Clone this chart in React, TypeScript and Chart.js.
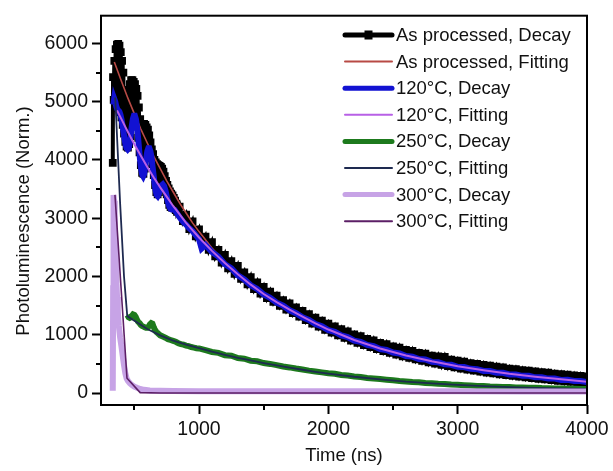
import { useEffect, useRef } from 'react';
import { Chart, registerables } from 'chart.js';

Chart.register(...registerables);

// ---------- data ----------
const seriesLabels = [
  'As processed, Decay',
  'As processed, Fitting',
  '120°C, Decay',
  '120°C, Fitting',
  '250°C, Decay',
  '250°C, Fitting',
  '300°C, Decay',
  '300°C, Fitting',
];

const xTickStops = [500, 1000, 1500, 2000, 2500, 3000, 3500, 4000];
const xTickValues = [1000, 2000, 3000, 4000];
const yTickStops = [0, 500, 1000, 1500, 2000, 2500, 3000, 3500, 4000, 4500, 5000, 5500, 6000];
const yTickValues = [0, 1000, 2000, 3000, 4000, 5000, 6000];

// As processed, Decay (noisy band: alternating upper / lower envelope)
const asProcDecayT = [
  333, 335, 340, 345, 350, 355, 360, 365, 370, 375, 380, 385, 390, 395, 400, 405, 410, 415, 420, 425, 430,
  435, 440, 445, 450, 455, 460, 465, 470, 475, 480, 485, 490, 495, 500, 505, 510, 515, 520, 525, 530,
  535, 540, 545, 550, 555, 560, 565, 570, 575, 580, 585, 590, 595, 600, 605, 610, 615, 620, 625, 630,
  635, 640, 645, 650, 655, 660, 665, 670, 675, 680, 685, 690, 695, 700, 705, 710, 715, 720, 725, 730,
  735, 740, 745, 750, 755, 760, 765, 770, 775, 780, 785, 790, 795, 800, 805, 810, 815, 820, 825, 830,
  850, 875, 900, 925, 950, 975, 1000, 1025, 1050, 1075, 1100, 1125, 1150, 1175, 1200, 1225, 1250, 1275,
  1300, 1325, 1350, 1375, 1400, 1425, 1450, 1475, 1500, 1525, 1550, 1575, 1600, 1625, 1650, 1675, 1700,
  1725, 1750, 1775, 1800, 1825, 1850, 1875, 1900, 1925, 1950, 1975, 2000,
  2025, 2050, 2075, 2100, 2125, 2150, 2175, 2200, 2225, 2250, 2275, 2300, 2325, 2350, 2375, 2400,
  2425, 2450, 2475, 2500, 2525, 2550, 2575, 2600, 2625, 2650, 2675, 2700, 2725, 2750, 2775, 2800,
  2825, 2850, 2875, 2900, 2925, 2950, 2975, 3000, 3025, 3050, 3075, 3100, 3125, 3150, 3175, 3200,
  3225, 3250, 3275, 3300, 3325, 3350, 3375, 3400, 3425, 3450, 3475, 3500, 3525, 3550, 3575, 3600,
  3625, 3650, 3675, 3700, 3725, 3750, 3775, 3800, 3825, 3850, 3875, 3900, 3925, 3950, 3975, 4000,
];
const asProcDecayV = [
  3950, 5420, 5030, 5700, 5030, 5900, 4950, 5980, 4900, 5990, 4870, 5960, 4820, 5850, 4730, 5700, 4600, 5500, 4450, 5200, 4310,
  5050, 4230, 5050, 4210, 5150, 4270, 5300, 4410, 5370, 4610, 5370, 4750, 5340, 4790, 5300, 4750, 5220, 4610, 5100, 4380,
  4900, 4130, 4700, 3910, 4620, 3780, 4620, 3760, 4620, 3850, 4600, 4030, 4560, 4180, 4520, 4230, 4420, 4210, 4300, 4110,
  4180, 3930, 4100, 3740, 4000, 3570, 3960, 3450, 3930, 3410, 3910, 3450, 3900, 3530, 3880, 3590, 3850, 3610, 3800, 3580,
  3720, 3510, 3640, 3410, 3570, 3310, 3510, 3230, 3460, 3190, 3420, 3180, 3390, 3180, 3350, 3170, 3300, 3140, 3250, 3110,
  3200, 2950, 3060, 2815, 2945, 2690, 2810, 2570, 2685, 2455, 2590, 2345, 2455, 2240, 2370, 2140, 2265, 2045,
  2180, 1960, 2070, 1865, 1990, 1785, 1900, 1705, 1820, 1630, 1740, 1565, 1670, 1497, 1595, 1432, 1540,
  1370, 1470, 1310, 1410, 1250, 1352, 1193, 1295, 1138, 1242, 1086, 1190,
  1036, 1143, 990, 1095, 946, 1060, 901, 1005, 861, 975, 823, 930, 787, 905, 752, 860,
  719, 840, 689, 800, 659, 780, 629, 740, 602, 725, 577, 690, 552, 675, 527, 640,
  504, 630, 482, 620, 461, 575, 440, 555, 421, 540, 403, 515, 386, 500, 368, 485,
  352, 470, 337, 455, 322, 440, 307, 420, 293, 410, 281, 395, 268, 385, 256, 370,
  244, 360, 233, 350, 221, 335, 210, 325, 200, 315, 190, 305, 180, 295, 170, 285,
];

// As processed, Fitting
const asProcFitT = [345, 400, 450, 500, 550, 600, 650, 700, 750, 800, 850, 900, 950, 1000, 1100, 1200, 1300, 1400, 1500, 1600, 1700, 1800, 1900, 2000, 2200, 2400, 2600, 2800, 3000, 3200, 3400, 3600, 3800, 4000];
const asProcFitV = [5680, 5350, 5060, 4790, 4530, 4290, 4060, 3850, 3640, 3450, 3260, 3090, 2920, 2770, 2490, 2250, 2045, 1860, 1700, 1555, 1425, 1305, 1190, 1085, 905, 760, 640, 540, 455, 385, 325, 275, 230, 190];

// 120°C, Decay
const c120DecayT = [
  338, 344, 352, 360, 368, 376, 384, 392, 400, 408, 416, 424, 432, 440, 448, 456, 464, 472, 480, 488,
  496, 504, 512, 520, 528, 536, 544, 552, 560, 568, 576, 584, 592, 600, 608, 616, 624, 632, 640, 648,
  656, 664, 672, 680, 690, 700, 710, 720, 730, 740, 750, 760, 770, 780, 790, 800, 812, 825, 840, 855,
  870, 885, 900, 915, 930, 950, 1000, 1020, 1050, 1100, 1150, 1200, 1250, 1300, 1350, 1400, 1450, 1500,
  1550, 1600, 1650, 1700, 1750, 1800, 1850, 1900, 1950, 2000, 2050, 2100, 2150, 2200, 2250, 2300, 2350,
  2400, 2450, 2500, 2550, 2600, 2650, 2700, 2750, 2800, 2850, 2900, 2950, 3000, 3050, 3100, 3150, 3200,
  3250, 3300, 3350, 3400, 3450, 3500, 3550, 3600, 3650, 3700, 3750, 3800, 3850, 3900, 3950, 4000,
];
const c120DecayV = [
  4950, 5050, 5000, 4920, 4870, 4850, 4830, 4780, 4700, 4600, 4480, 4360, 4260, 4200, 4180, 4200, 4280, 4420, 4580, 4700,
  4760, 4760, 4700, 4580, 4400, 4200, 4000, 3850, 3750, 3720, 3760, 3880, 4030, 4150, 4200, 4200, 4150, 4050, 3900, 3750,
  3600, 3480, 3400, 3380, 3420, 3500, 3560, 3580, 3550, 3480, 3380, 3280, 3200, 3160, 3150, 3150, 3140, 3100, 3050, 3000,
  2960, 2920, 2890, 2850, 2820, 2780, 2640, 2480, 2540, 2420, 2340, 2210, 2140, 2020, 1950, 1850, 1785, 1690,
  1635, 1550, 1500, 1420, 1370, 1300, 1255, 1185, 1145, 1080, 1050, 990, 960, 900, 880, 825, 805,
  755, 740, 695, 680, 635, 625, 585, 575, 535, 528, 492, 485, 450, 446, 415, 410, 380,
  378, 350, 348, 320, 320, 295, 295, 270, 271, 248, 248, 226, 228, 206, 208, 188,
];

// 120°C, Fitting
const c120FitT = [366, 400, 450, 500, 550, 600, 650, 700, 750, 800, 900, 1000, 1100, 1200, 1300, 1400, 1500, 1600, 1700, 1800, 1900, 2000, 2200, 2400, 2600, 2800, 3000, 3200, 3400, 3600, 3800, 4000];
const c120FitV = [4850, 4700, 4480, 4270, 4070, 3880, 3700, 3530, 3370, 3210, 2920, 2670, 2440, 2230, 2040, 1860, 1700, 1560, 1430, 1310, 1195, 1090, 910, 765, 645, 545, 460, 390, 330, 280, 235, 195];

// 250°C, Decay
const c250DecayT = [
  446, 456, 464, 472, 480, 490, 500, 510,
  520, 530, 540, 550, 560, 570, 580, 590, 600, 610, 620, 630, 640, 650, 660, 670, 680, 690, 700, 720,
  740, 760, 780, 800, 820, 840, 860, 880, 900, 920, 940, 960, 980, 1000,
  1050, 1100, 1150, 1200, 1250, 1300, 1350, 1400, 1450, 1500, 1550, 1600, 1650, 1700, 1750, 1800, 1850,
  1900, 1950, 2000, 2050, 2100, 2150, 2200, 2250, 2300, 2350, 2400, 2450, 2500, 2550, 2600, 2650, 2700,
  2750, 2800, 2850, 2900, 2950, 3000, 3050, 3100, 3150, 3200, 3250, 3300, 3350, 3400, 3450, 3500, 3550,
  3600, 3650, 3700, 3750, 3800, 3850, 3900, 3950, 4000,
];
const c250DecayV = [
  1340, 1300, 1290, 1300, 1320, 1350, 1340, 1310,
  1260, 1220, 1200, 1170, 1150, 1140, 1130, 1120, 1120, 1140, 1180, 1200, 1190, 1130, 1080, 1050, 1030, 1010, 990, 970,
  950, 925, 910, 895, 880, 855, 840, 830, 815, 805, 790, 780, 770, 765,
  735, 705, 690, 650, 640, 600, 590, 555, 545, 515, 500, 480, 455, 440, 420, 405, 385,
  370, 355, 340, 330, 310, 300, 285, 275, 260, 250, 240, 230, 220, 208, 200, 190, 185,
  172, 170, 160, 155, 145, 142, 135, 130, 122, 120, 112, 110, 104, 102, 96, 95, 90,
  90, 85, 83, 80, 79, 75, 74, 71, 70,
];

// 250°C, Fitting
const c250FitT = [352, 390, 420, 445, 500, 600, 700, 800, 900, 1000, 1100, 1200, 1300, 1400, 1500, 1600, 1700, 1800, 1900, 2000, 2200, 2400, 2600, 2800, 3000, 3200, 3400, 3600, 3800, 4000];
const c250FitV = [5070, 3250, 2000, 1320, 1240, 1100, 990, 900, 830, 770, 710, 655, 605, 560, 515, 475, 435, 400, 365, 335, 280, 235, 195, 165, 140, 118, 100, 88, 78, 70];

// 300°C, Decay
const c300DecayT = [333, 336, 339, 343, 348, 354, 360, 366, 372, 380, 390, 400, 410, 420, 430, 440, 450, 465, 480, 500, 520, 545, 575, 620, 700, 800, 1000, 1500, 2000, 2500, 3000, 3500, 4000];
const c300DecayV = [40, 1800, 3400, 3300, 2900, 2400, 2000, 1650, 1400, 1150, 950, 800, 640, 480, 340, 250, 210, 170, 140, 110, 90, 70, 55, 45, 38, 34, 32, 30, 30, 29, 29, 28, 28];

// 300°C, Fitting
const c300FitT = [350, 443, 545, 700, 4000];
const c300FitV = [3400, 255, 8, 1, 0];

// ---------- styles ----------
const seriesColors = ['#000000', '#b84a45', '#1212d2', '#b860e6', '#1d7a1d', '#1e2a50', '#c7a3e6', '#5c1f66'];
const seriesWidths = [4, 1.6, 6, 2, 6, 1.8, 6, 1.6];
const FONT = '"Liberation Sans", Arial, Helvetica, sans-serif';

function pts(t: number[], v: number[]) {
  return t.map((x, i) => ({ x, y: v[i] }));
}

const overlayPlugin = {
  id: 'overlay',
  afterDraw(chart: any) {
    const { ctx, chartArea: a, scales } = chart;
    ctx.save();
    // frame
    ctx.strokeStyle = '#000';
    ctx.lineWidth = 2;
    ctx.strokeRect(a.left, a.top, a.right - a.left, a.bottom - a.top);
    // minor ticks
    ctx.beginPath();
    scales.x.ticks.forEach((t: any) => {
      if (!xTickValues.includes(t.value)) {
        const px = Math.round(scales.x.getPixelForValue(t.value));
        ctx.moveTo(px, a.bottom);
        ctx.lineTo(px, a.bottom + 5);
      }
    });
    scales.y.ticks.forEach((t: any) => {
      if (!yTickValues.includes(t.value)) {
        const py = Math.round(scales.y.getPixelForValue(t.value));
        ctx.moveTo(a.left, py);
        ctx.lineTo(a.left - 5, py);
      }
    });
    ctx.stroke();

    // y title
    ctx.fillStyle = '#111';
    ctx.font = `18.5px ${FONT}`;
    ctx.textAlign = 'center';
    ctx.textBaseline = 'middle';
    ctx.translate(24, 221);
    ctx.rotate(-Math.PI / 2);
    ctx.fillText('Photoluminescence (Norm.)', 0, 0);
    ctx.setTransform(1, 0, 0, 1, 0, 0);
    ctx.restore();

    // legend
    ctx.save();
    const x0 = a.right - 242;
    const x1 = a.right - 195;
    const tx = a.right - 191;
    ctx.font = `18.5px ${FONT}`;
    ctx.textAlign = 'left';
    ctx.textBaseline = 'middle';
    seriesLabels.forEach((label, i) => {
      const y = 35 + i * 26.6;
      ctx.strokeStyle = seriesColors[i];
      ctx.lineWidth = i % 2 === 0 ? 5 : 2;
      ctx.lineCap = 'round';
      ctx.beginPath();
      ctx.moveTo(x0, y);
      ctx.lineTo(x1, y);
      ctx.stroke();
      if (i === 0) {
        ctx.fillStyle = '#000';
        ctx.fillRect((x0 + x1) / 2 - 4, y - 4.5, 8, 9);
      }
      ctx.fillStyle = '#111';
      ctx.fillText(label, tx, y + 1);
    });
    ctx.restore();
  },
};

const tickGrid = {
  display: true,
  drawOnChartArea: false,
  drawTicks: true,
  tickLength: 9,
  tickWidth: 2,
};

export default function App() {
  const ref = useRef<HTMLCanvasElement | null>(null);
  useEffect(() => {
    document.body.style.margin = '0';
    if (!ref.current) return;
    Chart.defaults.font.family = FONT;
    Chart.defaults.color = '#111';
    const sets = [
      pts(asProcDecayT, asProcDecayV),
      pts(asProcFitT, asProcFitV),
      pts(c120DecayT, c120DecayV),
      pts(c120FitT, c120FitV),
      pts(c250DecayT, c250DecayV),
      pts(c250FitT, c250FitV),
      pts(c300DecayT, c300DecayV),
      pts(c300FitT, c300FitV),
    ];
    const datasets = sets.map((data, i) => ({
      label: seriesLabels[i],
      data,
      borderColor: seriesColors[i],
      backgroundColor: seriesColors[i],
      borderWidth: seriesWidths[i],
      pointRadius: i === 0 ? 5.5 : 0,
      pointStyle: 'rect' as const,
      pointBorderWidth: 0,
      pointBackgroundColor: seriesColors[i],
      tension: 0,
      fill: false,
      order: 8 - i,
    }));
    const chart = new Chart(ref.current, {
      type: 'line',
      data: { datasets },
      options: {
        responsive: false,
        animation: false,
        parsing: false as any,
        layout: { padding: { top: 12, right: 26, left: 0, bottom: 0 } },
        plugins: { legend: { display: false }, tooltip: { enabled: false } },
        scales: {
          x: {
            type: 'linear',
            min: 242,
            max: 4000,
            afterFit: (s: any) => { s.height = 66; },
            afterBuildTicks: (s: any) => { s.ticks = xTickStops.map((value) => ({ value })); },
            ticks: {
              autoSkip: false,
              maxRotation: 0,
              padding: 4,
              font: { size: 19.5 },
              color: '#111',
              callback: (v: any) => (xTickValues.includes(Number(v)) ? String(v) : ''),
            },
            grid: {
              ...tickGrid,
              tickColor: (c: any) => (c.tick && xTickValues.includes(c.tick.value) ? '#000' : 'rgba(0,0,0,0)'),
            },
            border: { display: false },
            title: { display: true, text: 'Time (ns)', font: { size: 18.5 }, color: '#111', padding: { top: 0, bottom: 4 } },
          },
          y: {
            type: 'linear',
            min: -205,
            max: 6475,
            afterFit: (s: any) => { s.width = 101; },
            afterBuildTicks: (s: any) => { s.ticks = yTickStops.map((value) => ({ value })); },
            ticks: {
              autoSkip: false,
              padding: 4,
              font: { size: 19.5 },
              color: '#111',
              callback: (v: any) => (yTickValues.includes(Number(v)) ? String(v) : ''),
            },
            grid: {
              ...tickGrid,
              tickColor: (c: any) => (c.tick && yTickValues.includes(c.tick.value) ? '#000' : 'rgba(0,0,0,0)'),
            },
            border: { display: false },
          },
        },
      },
      plugins: [overlayPlugin],
    });
    return () => chart.destroy();
  }, []);
  return (
    <div style={{ width: 613, height: 471, background: '#fff' }}>
      <canvas ref={ref} width={613} height={471} style={{ display: 'block' }} />
    </div>
  );
}
